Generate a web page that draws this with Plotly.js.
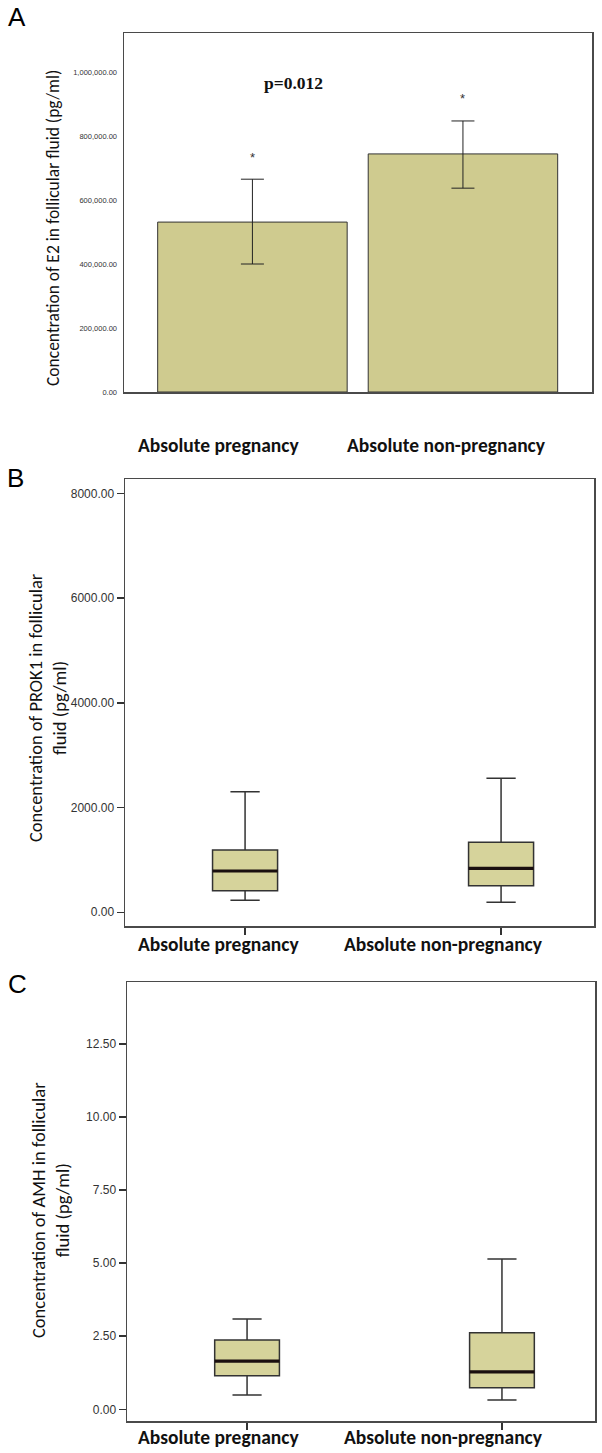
<!DOCTYPE html>
<html>
<head>
<meta charset="utf-8">
<script src="https://cdn.plot.ly/plotly-3.0.1.min.js"></script>
<style>html,body{margin:0;padding:0;background:#fff}#chart{width:602px;height:1453px}</style>
</head>
<body>
<div id="chart"></div>
<script>
// ---- Data ----
const groups = ["Absolute pregnancy", "Absolute non-pregnancy"];

// Panel A: E2 mean with error bars
const e2Mean = [531000, 744000];
const e2Upper = [665000, 847000];
const e2Lower = [400000, 637000];
const e2Ticks = [0, 200000, 400000, 600000, 800000, 1000000];

// Panel B: PROK1 box statistics
const prokLowerWhisker = [229, 191];
const prokQ1 = [413, 508];
const prokMedian = [788, 840];
const prokQ3 = [1190, 1337];
const prokUpperWhisker = [2303, 2558];
const prokTicks = [0, 2000, 4000, 6000, 8000];

// Panel C: AMH box statistics
const amhLowerWhisker = [0.49, 0.32];
const amhQ1 = [1.15, 0.74];
const amhMedian = [1.65, 1.28];
const amhQ3 = [2.37, 2.62];
const amhUpperWhisker = [3.09, 5.14];
const amhTicks = [0, 2.5, 5, 7.5, 10, 12.5];

// ---- Styling ----
const barFill = '#CFCB8F';
const boxFill = '#D6D39B';
const edge = '#333333';
const sansTitle = 'Carlito, Lato, sans-serif';
const boxW = 0.254;
const pos = [0, 1];

const traces = [];

traces.push({
  type: 'bar', x: pos, y: e2Mean, width: 0.9, xaxis: 'x', yaxis: 'y',
  marker: {color: barFill, line: {color: edge, width: 1}},
  error_y: {type: 'data', symmetric: false,
    array: e2Mean.map((m, i) => e2Upper[i] - m),
    arrayminus: e2Mean.map((m, i) => m - e2Lower[i]),
    color: '#222', thickness: 1, width: 11.5},
  hoverinfo: 'skip', showlegend: false
});

function boxTraces(lo, q1, med, q3, hi, xa, ya) {
  lo.forEach((_, i) => {
    traces.push({
      type: 'box', x: [pos[i]], q1: [q1[i]], median: [med[i]], q3: [q3[i]],
      lowerfence: [lo[i]], upperfence: [hi[i]], width: boxW, whiskerwidth: 0.45,
      fillcolor: boxFill, line: {color: edge, width: 1.5}, boxpoints: false,
      xaxis: xa, yaxis: ya, hoverinfo: 'skip', showlegend: false
    });
    traces.push({
      type: 'scatter', mode: 'lines', x: [pos[i] - boxW / 2, pos[i] + boxW / 2], y: [med[i], med[i]],
      line: {color: '#1a0f0f', width: 3.2}, xaxis: xa, yaxis: ya, hoverinfo: 'skip', showlegend: false
    });
  });
}
boxTraces(prokLowerWhisker, prokQ1, prokMedian, prokQ3, prokUpperWhisker, 'x2', 'y2');
boxTraces(amhLowerWhisker, amhQ1, amhMedian, amhQ3, amhUpperWhisker, 'x3', 'y3');

const frame = {showline: true, mirror: true, linecolor: '#4a4a4a', linewidth: 1.5, showgrid: false, zeroline: false, fixedrange: true};

const annotations = [];
// panel letters
[['A', 17, 17], ['B', 15, 478], ['C', 17, 984]].forEach(([t, px, py]) => {
  annotations.push({text: t, xref: 'paper', yref: 'paper', x: px / 602, y: 1 - py / 1453,
    xanchor: 'center', yanchor: 'middle', showarrow: false, font: {family: 'Liberation Sans, Arial, sans-serif', size: 26, color: '#000'}});
});
// x category labels
[[445, 218, 446], [944, 218, 444], [1437, 218, 444]].forEach(([py, c1, c2]) => {
  groups.forEach((g, i) => {
    annotations.push({text: '<b>' + g + '</b>', xref: 'paper', yref: 'paper', x: [c1, c2][i] / 602, y: 1 - py / 1453,
      xanchor: 'center', yanchor: 'middle', showarrow: false, font: {family: sansTitle, size: 19.5, color: '#111'}});
  });
});
// y titles
annotations.push({text: 'Concentration of E2 in follicular fluid (pg/ml)', xref: 'paper', yref: 'paper', x: 53 / 602, y: 1 - 228 / 1453,
  textangle: -90, xanchor: 'center', yanchor: 'middle', showarrow: false, font: {family: sansTitle, size: 17.5, color: '#111'}});
annotations.push({text: 'Concentration of PROK1 in follicular<br>fluid (pg/ml)', xref: 'paper', yref: 'paper', x: 48 / 602, y: 1 - 708 / 1453,
  textangle: -90, xanchor: 'center', yanchor: 'middle', showarrow: false, font: {family: sansTitle, size: 18.5, color: '#111'}});
annotations.push({text: 'Concentration of AMH in follicular<br>fluid (pg/ml)', xref: 'paper', yref: 'paper', x: 50 / 602, y: 1 - 1210 / 1453,
  textangle: -90, xanchor: 'center', yanchor: 'middle', showarrow: false, font: {family: sansTitle, size: 18.5, color: '#111'}});
// p value
annotations.push({text: '<b>p=0.012</b>', xref: 'paper', yref: 'paper', x: 293 / 602, y: 1 - 83 / 1453,
  xanchor: 'center', yanchor: 'middle', showarrow: false, font: {family: 'Liberation Serif, Times New Roman, serif', size: 17.5, color: '#111'}});
// asterisks
pos.forEach((p, i) => {
  annotations.push({text: '*', xref: 'x', yref: 'y', x: p, y: e2Upper[i], yshift: 22,
    xanchor: 'center', yanchor: 'middle', showarrow: false, font: {family: 'Liberation Sans, Arial, sans-serif', size: 13, color: '#333'}});
});

const layout = {
  width: 602, height: 1453, margin: {l: 0, r: 0, t: 0, b: 0},
  paper_bgcolor: '#fff', plot_bgcolor: '#fff', showlegend: false,
  xaxis: Object.assign({}, frame, {domain: [124 / 602, 592 / 602], range: [-0.61, 1.613], showticklabels: false, ticks: '', anchor: 'y'}),
  yaxis: Object.assign({}, frame, {domain: [1 - 392 / 1453, 1 - 33 / 1453], range: [0, 1121875], tickvals: e2Ticks, tickformat: ',.2f',
    ticks: '', ticklabelstandoff: 4, tickfont: {family: 'Liberation Sans Narrow, Arial Narrow, Liberation Sans, sans-serif', size: 7.5, color: '#333'}, anchor: 'x'}),
  xaxis2: Object.assign({}, frame, {domain: [125 / 602, 594 / 602], range: [-0.469, 1.363], tickvals: pos, showticklabels: false,
    ticks: 'outside', ticklen: 7, tickcolor: '#333', tickwidth: 1.5, anchor: 'y2'}),
  yaxis2: Object.assign({}, frame, {domain: [1 - 926 / 1453, 1 - 479 / 1453], range: [-262, 8273], tickvals: prokTicks, tickformat: '.2f',
    ticks: 'outside', ticklen: 7, tickcolor: '#333', tickwidth: 1.5, tickfont: {family: 'Liberation Sans, Arial, sans-serif', size: 12, color: '#333'}, anchor: 'x2'}),
  xaxis3: Object.assign({}, frame, {domain: [127 / 602, 595 / 602], range: [-0.471, 1.365], tickvals: pos, showticklabels: false,
    ticks: 'outside', ticklen: 7, tickcolor: '#333', tickwidth: 1.5, anchor: 'y3'}),
  yaxis3: Object.assign({}, frame, {domain: [1 - 1421 / 1453, 1 - 982 / 1453], range: [-0.40, 14.62], tickvals: amhTicks, tickformat: '.2f',
    ticks: 'outside', ticklen: 7, tickcolor: '#333', tickwidth: 1.5, tickfont: {family: 'Liberation Sans, Arial, sans-serif', size: 12, color: '#333'}, anchor: 'x3'}),
  annotations: annotations
};

Plotly.newPlot('chart', traces, layout, {displayModeBar: false, staticPlot: true});
</script>
</body>
</html>
